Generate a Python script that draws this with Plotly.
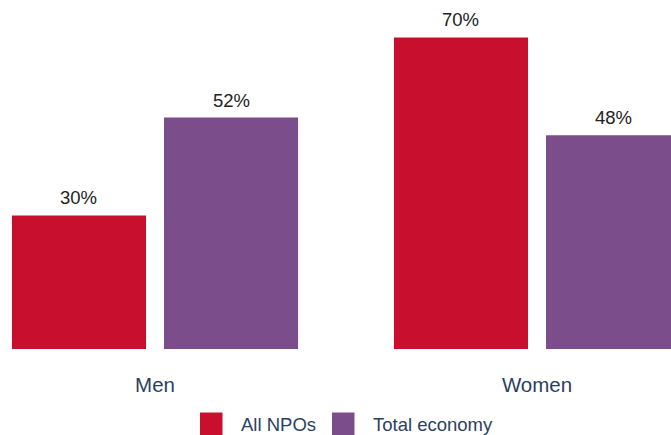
import plotly.graph_objects as go

# Share of employment by gender
categories = ["Men", "Women"]
all_npos = [30, 70]
total_economy = [52, 48]
series_names = ["All NPOs", "Total economy"]
series_colors = ["#C8102E", "#7B4D8A"]

W, H = 671, 435
M_BOTTOM = 86
PLOT_H = H - M_BOTTOM
X_RANGE = [-0.4058, 1.3508]
Y_RANGE = [0, 78.4]
BARGAP = 0.204
BARGROUPGAP = 0.118

fig = go.Figure()
for name, vals, col in zip(series_names, [all_npos, total_economy], series_colors):
    fig.add_trace(go.Bar(x=categories, y=vals, name=name, marker_color=col,
                         marker_line_width=0, showlegend=False))

# value labels above each bar
px_per_cat = W / (X_RANGE[1] - X_RANGE[0])
slot = px_per_cat * (1 - BARGAP) / 2
for k, vals in enumerate([all_npos, total_economy]):
    shift = (k - 0.5) * slot
    for c, v in zip(categories, vals):
        fig.add_annotation(x=c, y=v, text=f"{v}%", showarrow=False,
                           xshift=shift, yanchor="bottom", yshift=5,
                           font=dict(family="Liberation Sans, Arial", size=18.5, color="#222222"))

# legend drawn as swatches with labels below the axis
def py(p):
    return (PLOT_H - p) / PLOT_H

legend_items = [(200, 239), (332, 371)]
for (sx, tx), name, col in zip(legend_items, series_names, series_colors):
    fig.add_shape(type="rect", xref="paper", yref="paper",
                  x0=sx / W, x1=(sx + 22.5) / W, y0=py(435), y1=py(412.5),
                  fillcolor=col, line_width=0)
    fig.add_annotation(xref="paper", yref="paper", x=tx / W, y=py(424.5),
                       text=name, showarrow=False, xanchor="left", yanchor="middle",
                       font=dict(family="Liberation Sans, Arial", size=18.5, color="#2a3f5f"))

fig.update_layout(
    width=W, height=H,
    margin=dict(l=0, r=0, t=0, b=M_BOTTOM),
    paper_bgcolor="white", plot_bgcolor="white",
    barmode="group", bargap=BARGAP, bargroupgap=BARGROUPGAP,
    xaxis=dict(range=X_RANGE, showgrid=False, zeroline=False, showline=False,
               ticks="", ticklabelstandoff=21,
               tickfont=dict(family="Liberation Sans, Arial", size=20.5, color="#2a3f5f")),
    yaxis=dict(range=Y_RANGE, visible=False),
)

fig.write_html("out.html")
